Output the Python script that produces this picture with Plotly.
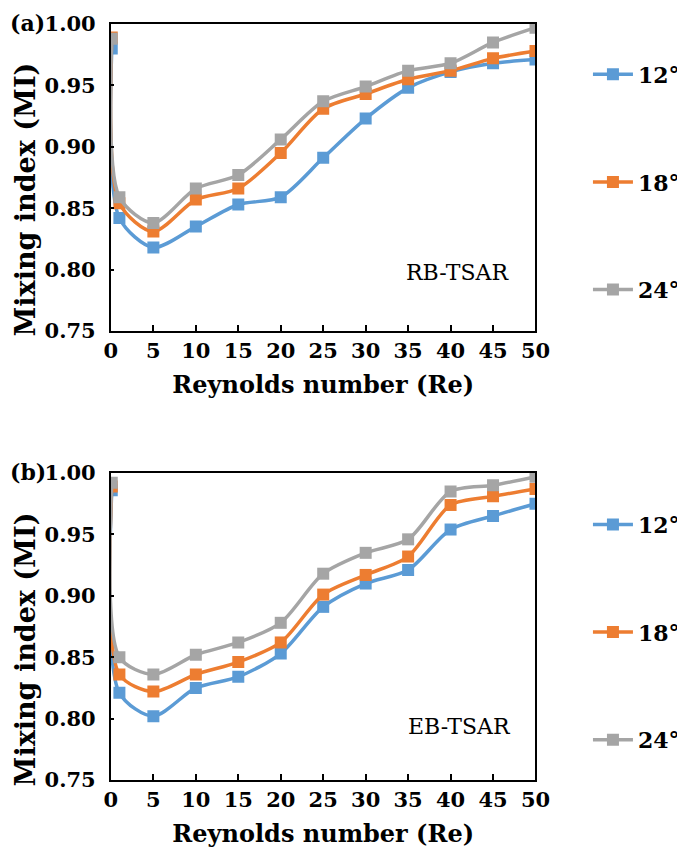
import plotly.graph_objects as go

# Reynolds numbers (first point is the near-zero Re case)
re_values = [0.1, 1, 5, 10, 15, 20, 25, 30, 35, 40, 45, 50]
angles = ['12°', '18°', '24°']

# (a) RB-TSAR
mi_rb_12 = [0.980, 0.842, 0.818, 0.835, 0.853, 0.859, 0.891, 0.923, 0.948, 0.961, 0.968, 0.971]
mi_rb_18 = [0.989, 0.854, 0.831, 0.857, 0.866, 0.895, 0.931, 0.943, 0.955, 0.962, 0.972, 0.978]
mi_rb_24 = [0.988, 0.859, 0.838, 0.866, 0.877, 0.906, 0.937, 0.949, 0.962, 0.968, 0.985, 0.997]

# (b) EB-TSAR
mi_eb_12 = [0.986, 0.821, 0.802, 0.825, 0.834, 0.853, 0.891, 0.910, 0.921, 0.954, 0.965, 0.975]
mi_eb_18 = [0.989, 0.836, 0.822, 0.836, 0.846, 0.862, 0.901, 0.917, 0.932, 0.974, 0.981, 0.987]
mi_eb_24 = [0.992, 0.850, 0.836, 0.852, 0.862, 0.878, 0.918, 0.935, 0.946, 0.985, 0.990, 0.997]

x_ticks = [0, 5, 10, 15, 20, 25, 30, 35, 40, 45, 50]
y_ticks = [0.75, 0.80, 0.85, 0.90, 0.95, 1.00]

colors = ['#5B9BD5', '#ED7D31', '#A5A5A5']
serif = 'DejaVu Serif'

fig = go.Figure()

panels = [
    ([mi_rb_12, mi_rb_18, mi_rb_24], 'x', 'y', 'legend'),
    ([mi_eb_12, mi_eb_18, mi_eb_24], 'x2', 'y2', 'legend2'),
]
for series, xa, ya, leg in panels:
    for name, vals, c in zip(angles, series, colors):
        fig.add_trace(go.Scatter(
            x=re_values, y=vals, name=name, xaxis=xa, yaxis=ya,
            legend=leg, legendgroup=leg + name,
            mode='lines+markers', line=dict(color=c, width=3.5, shape='spline', smoothing=0.8),
            marker=dict(symbol='square', size=12, color=c),
        ))

axis_common = dict(
    showline=True, linecolor='black', linewidth=2, mirror=True, automargin=False,
    ticks='inside', tickcolor='black', showgrid=False, zeroline=False,
    tickfont=dict(family=serif, size=21, color='black', weight='bold'),
)
xa = dict(axis_common, range=[0, 50], tickvals=x_ticks, ticklen=6, tickwidth=2,
          title=dict(text='<b>Reynolds number (Re)</b>', font=dict(family=serif, size=24, color='black'),
                     standoff=14))
ya = dict(axis_common, range=[0.75, 1.0], tickvals=y_ticks, tickformat='.2f', ticklen=3, tickwidth=2,
          ticklabelstandoff=9)

leg_common = dict(
    font=dict(family=serif, size=22, color='black', weight='bold'),
    traceorder='grouped', tracegroupgap=76, itemwidth=40,
    bgcolor='rgba(0,0,0,0)', xanchor='left', yanchor='top',
)

ytitle_font = dict(family=serif, size=27, color='black')

# page body adds an 8px offset, so the figure is 8px smaller than the window
fig.update_layout(
    width=677, height=850,
    margin=dict(l=0, r=0, t=0, b=0),
    plot_bgcolor='white', paper_bgcolor='white',
    xaxis=dict(xa, domain=[0.1536, 0.7873], anchor='y'),
    yaxis=dict(ya, domain=[0.62, 0.9812], anchor='x'),
    xaxis2=dict(xa, domain=[0.1536, 0.7873], anchor='y2'),
    yaxis2=dict(ya, domain=[0.0918, 0.4529], anchor='x2'),
    legend=dict(leg_common, x=0.8656, y=0.9464),
    legend2=dict(leg_common, x=0.8656, y=0.4169),
    annotations=[
        dict(text='<b>Mixing index (MI)</b>', x=0.0, y=0.774, xref='paper', yref='paper',
             textangle=-90, showarrow=False, xanchor='left', yanchor='middle', font=ytitle_font),
        dict(text='<b>Mixing index (MI)</b>', x=0.0, y=0.2447, xref='paper', yref='paper',
             textangle=-90, showarrow=False, xanchor='left', yanchor='middle', font=ytitle_font),
        dict(text='RB-TSAR', x=0.942, y=0.19, xref='x domain', yref='y domain', showarrow=False,
             xanchor='right', yanchor='middle', font=dict(family=serif, size=22, color='black')),
        dict(text='EB-TSAR', x=0.948, y=0.173, xref='x2 domain', yref='y2 domain', showarrow=False,
             xanchor='right', yanchor='middle', font=dict(family=serif, size=22, color='black')),
        dict(text='<b>(a)</b>', x=0.0, y=1.0, xref='paper', yref='paper', showarrow=False,
             xanchor='left', yanchor='top', font=dict(family=serif, size=22, color='black')),
        dict(text='<b>(b)</b>', x=0.0, y=0.472, xref='paper', yref='paper', showarrow=False,
             xanchor='left', yanchor='top', font=dict(family=serif, size=22, color='black')),
    ],
)

fig.write_html("out.html")
